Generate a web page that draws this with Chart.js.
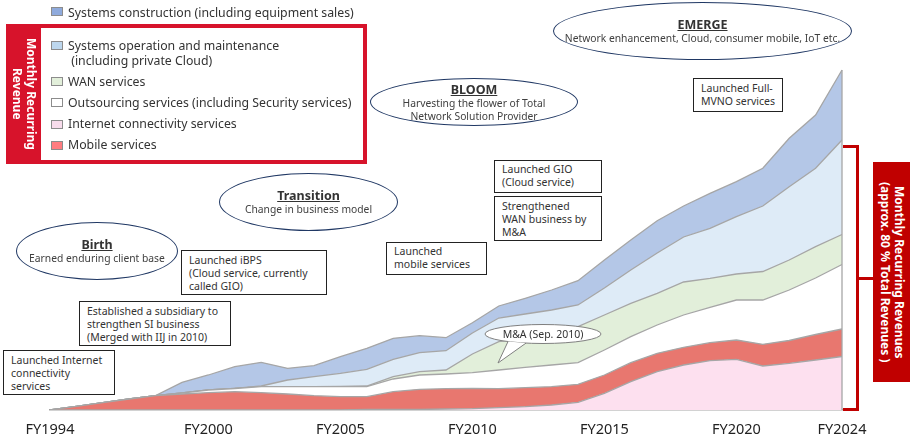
<!DOCTYPE html>
<html>
<head>
<meta charset="utf-8">
<script src="https://cdn.jsdelivr.net/npm/chart.js@4"></script>
<style>
  body { margin: 0; background: #fff; }
  #wrap { position: relative; width: 910px; height: 447px; overflow: hidden; font-family: "Noto Sans", sans-serif; color: #333; }
  #wrap canvas { position: absolute; left: 0; top: 0; }
  .abs { position: absolute; }
  .sw { position: absolute; left: 51px; width: 12px; height: 9px; border: 1px solid #8c8c8c; box-sizing: border-box; }
  .lg { position: absolute; left: 68px; font-size: 12.3px; line-height: 15px; color: #333; white-space: nowrap; }
  .ell { position: absolute; border: 1.5px solid #203864; border-radius: 50%; box-sizing: border-box; background: #fff;
         display: flex; flex-direction: column; justify-content: center; align-items: center; text-align: center;
         font-size: 10.3px; line-height: 13px; color: #404040; white-space: nowrap; }
  .ell b { font-size: 12.5px; line-height: 15px; text-decoration: underline; color: #333; }
  .box { position: absolute; border: 1px solid #222; background: #fff; box-sizing: border-box;
         font-size: 10.5px; line-height: 13px; color: #333; padding: 3px 0 0 7px; }
  .vt { position: absolute; writing-mode: vertical-rl; color: #fff; font-weight: bold; font-size: 12px; line-height: 14px;
        display: flex; align-items: center; justify-content: center; text-align: center; }
  .red { position: absolute; background: #c00000; }
</style>
</head>
<body>
<div id="wrap">
  <canvas id="chart" width="910" height="447"></canvas>

  <!-- legend -->
  <div class="sw" style="top:7px; background:#8faadc;"></div>
  <div class="lg" style="top:5px;">Systems construction (including equipment sales)</div>

  <div class="abs" style="left:6px; top:24px; width:361px; height:140px; background:#d7132b;"></div>
  <div class="abs" style="left:41px; top:28px; width:322px; height:132px; background:#fff;"></div>
  <div class="vt" style="left:6px; top:24px; width:35px; height:140px;">Monthly Recurring<br>Revenue</div>

  <div class="sw" style="top:41px; background:#bdd7ee;"></div>
  <div class="lg" style="top:38px;">Systems operation and maintenance<br>&nbsp;(including private Cloud)</div>
  <div class="sw" style="top:77px; background:#e2efda;"></div>
  <div class="lg" style="top:74px;">WAN services</div>
  <div class="sw" style="top:98px; background:#ffffff;"></div>
  <div class="lg" style="top:95px;">Outsourcing services (including Security services)</div>
  <div class="sw" style="top:120px; background:#f8dcec;"></div>
  <div class="lg" style="top:116px;">Internet connectivity services</div>
  <div class="sw" style="top:141px; background:#ff7c80;"></div>
  <div class="lg" style="top:137px;">Mobile services</div>

  <!-- phases -->
  <div class="ell" style="left:16px; top:222px; width:162px; height:58px;"><b>Birth</b>Earned enduring client base</div>
  <div class="ell" style="left:219px; top:173px; width:179px; height:58px;"><b>Transition</b>Change in business model</div>
  <div class="ell" style="left:370px; top:78px; width:208px; height:48px;"><b>BLOOM</b>Harvesting the flower of Total<br>Network Solution Provider</div>
  <div class="ell" style="left:553px; top:2px; width:299px; height:58px;"><b>EMERGE</b>Network enhancement, Cloud, consumer mobile, IoT etc.</div>

  <!-- milestones -->
  <div class="box" style="left:3px; top:350px; width:112px; height:45px;">Launched Internet<br>connectivity<br>services</div>
  <div class="box" style="left:79px; top:301px; width:152px; height:45px;">Established a subsidiary to<br>strengthen SI business<br>(Merged with IIJ in 2010)</div>
  <div class="box" style="left:181px; top:250px; width:146px; height:45px;">Launched iBPS<br>(Cloud service, currently<br>called GIO)</div>
  <div class="box" style="left:386px; top:242px; width:101px; height:33px; padding-top:2px;">Launched<br>mobile services</div>
  <div class="box" style="left:494px; top:160px; width:108px; height:33px; padding-top:2px;">Launched GIO<br>(Cloud service)</div>
  <div class="box" style="left:494px; top:196px; width:108px; height:45px;">Strengthened<br>WAN business by<br>M&amp;A</div>
  <div class="box" style="left:693px; top:78px; width:90px; height:34px; padding-top:3px;">Launched Full-<br>MVNO services</div>

  <svg class="abs" style="left:480px; top:320px;" width="130" height="50">
    <ellipse cx="63" cy="14" rx="58" ry="9.5" fill="#fff" stroke="#7f7f7f" stroke-width="1"/>
    <path d="M28 21.6 L18 43 L46 23.1" fill="#fff" stroke="#7f7f7f" stroke-width="1"/>
    <text x="63" y="18" text-anchor="middle" font-family="Noto Sans, sans-serif" font-size="10.5" fill="#333">M&amp;A (Sep. 2010)</text>
  </svg>

  <!-- right bracket -->
  <div class="red" style="left:843px; top:145px; width:16px; height:3px;"></div>
  <div class="red" style="left:856px; top:145px; width:3px; height:266px;"></div>
  <div class="red" style="left:843px; top:408px; width:16px; height:3px;"></div>
  <div class="red" style="left:856px; top:277px; width:17px; height:3px;"></div>
  <div class="vt" style="left:873px; top:162px; width:37px; height:220px; background:#c00000;">Monthly Recurring Revenues<br>(approx. 80 % Total Revenues )</div>
</div>

<script>
// fiscal years on the x axis
const years = ['FY1994','FY1995','FY1996','FY1997','FY1998','FY1999','FY2000','FY2001','FY2002','FY2003',
  'FY2004','FY2005','FY2006','FY2007','FY2008','FY2009','FY2010','FY2011','FY2012','FY2013',
  'FY2014','FY2015','FY2016','FY2017','FY2018','FY2019','FY2020','FY2021','FY2022','FY2023','FY2024'];
const shownTicks = ['FY1994','FY2000','FY2005','FY2010','FY2015','FY2020','FY2024'];

// revenue by segment (relative units), stacked bottom -> top
const internetConn = [0,0,0,0,0,0,0,0,0,0,0,0,0.5,0.5,0.5,1,1.3,2.3,3.3,5,7.7,16.7,28.3,38.3,45,49.3,50.7,44,46.7,50,53.5];
const mobile = [0,3.6,7.3,11,14.3,16,17.3,18.3,17.3,16,14.3,13.3,12.8,17.8,20.2,20.3,20.2,19,19,18.3,18,18.3,19,18.4,17.7,18,19.3,21.7,22.8,25.5,27.5];
const outsourcing = [0,0,0,0,0,1,2.7,3.2,6,7.3,9,10,10,12.7,14.3,14.7,15.8,18.7,20.4,21.7,21.6,25,26,28.3,32.3,35.4,40,44.3,50.5,56.5,64.5];
const wan = [0,0,0,0,0,0,0,0,0,0,0,0.2,0.7,2.3,3.3,4,18.7,28.3,29,31.7,36,35,33.4,31.7,33,29,26,28.5,30,31.3,30];
const sysOps = [0,0,0,0,0,0,0,0,0.7,6.7,10,13.2,16.7,17.4,19,19.3,21,23.7,24.3,23.3,21.7,27,33.3,40.3,45,50,57.3,65.5,73.3,78.4,94.5];
const sysConstruction = [0,0,0,0,0,10.7,15,21.8,23.7,11.7,11,16.6,21,21,17,13,10.3,12,15.7,20,24.3,28,30,32.3,31,35,35,37.7,48.4,53.3,70];

const edge = '#a6a6a6';
function layer(label, data, color, fill) {
  return {
    label: label, data: data, backgroundColor: color, borderColor: edge, borderWidth: 1.3,
    pointRadius: 0, tension: 0, fill: fill
  };
}

// gray edge down the last year, like the original
const rightEdge = {
  id: 'rightEdge',
  afterDatasetsDraw(chart) {
    const metas = chart.getSortedVisibleDatasetMetas();
    const top = metas[metas.length - 1].data;
    const p = top[top.length - 1];
    const ctx = chart.ctx;
    ctx.save();
    ctx.strokeStyle = edge;
    ctx.lineWidth = 1.3;
    ctx.beginPath();
    ctx.moveTo(p.x, p.y);
    ctx.lineTo(p.x, chart.scales.y.getPixelForValue(0));
    ctx.stroke();
    ctx.restore();
  }
};

new Chart(document.getElementById('chart'), {
  type: 'line',
  data: {
    labels: years,
    datasets: [
      layer('Internet connectivity services', internetConn, '#fde0ef', 'origin'),
      layer('Mobile services', mobile, '#e8776f', '-1'),
      layer('Outsourcing services (including Security services)', outsourcing, '#ffffff', '-1'),
      layer('WAN services', wan, '#e2efda', '-1'),
      layer('Systems operation and maintenance (including private Cloud)', sysOps, '#deebf7', '-1'),
      layer('Systems construction (including equipment sales)', sysConstruction, '#b4c7e7', '-1')
    ]
  },
  options: {
    responsive: false,
    animation: false,
    layout: { padding: { left: 50, right: 68, top: 10, bottom: 0 } },
    plugins: { legend: { display: false }, tooltip: { enabled: false } },
    scales: {
      x: {
        offset: false,
        grid: { display: false },
        border: { display: true, color: edge, width: 1.5 },
        afterFit: function(s) { s.height = 37; },
        ticks: {
          autoSkip: false, maxRotation: 0, padding: 3,
          color: '#222', font: { family: 'Noto Sans', size: 14.5 },
          callback: function(v) { const l = this.getLabelForValue(v); return shownTicks.includes(l) ? l : ''; }
        }
      },
      y: { stacked: true, display: false, min: 0, max: 400 }
    }
  },
  plugins: [rightEdge]
});
</script>
</body>
</html>
